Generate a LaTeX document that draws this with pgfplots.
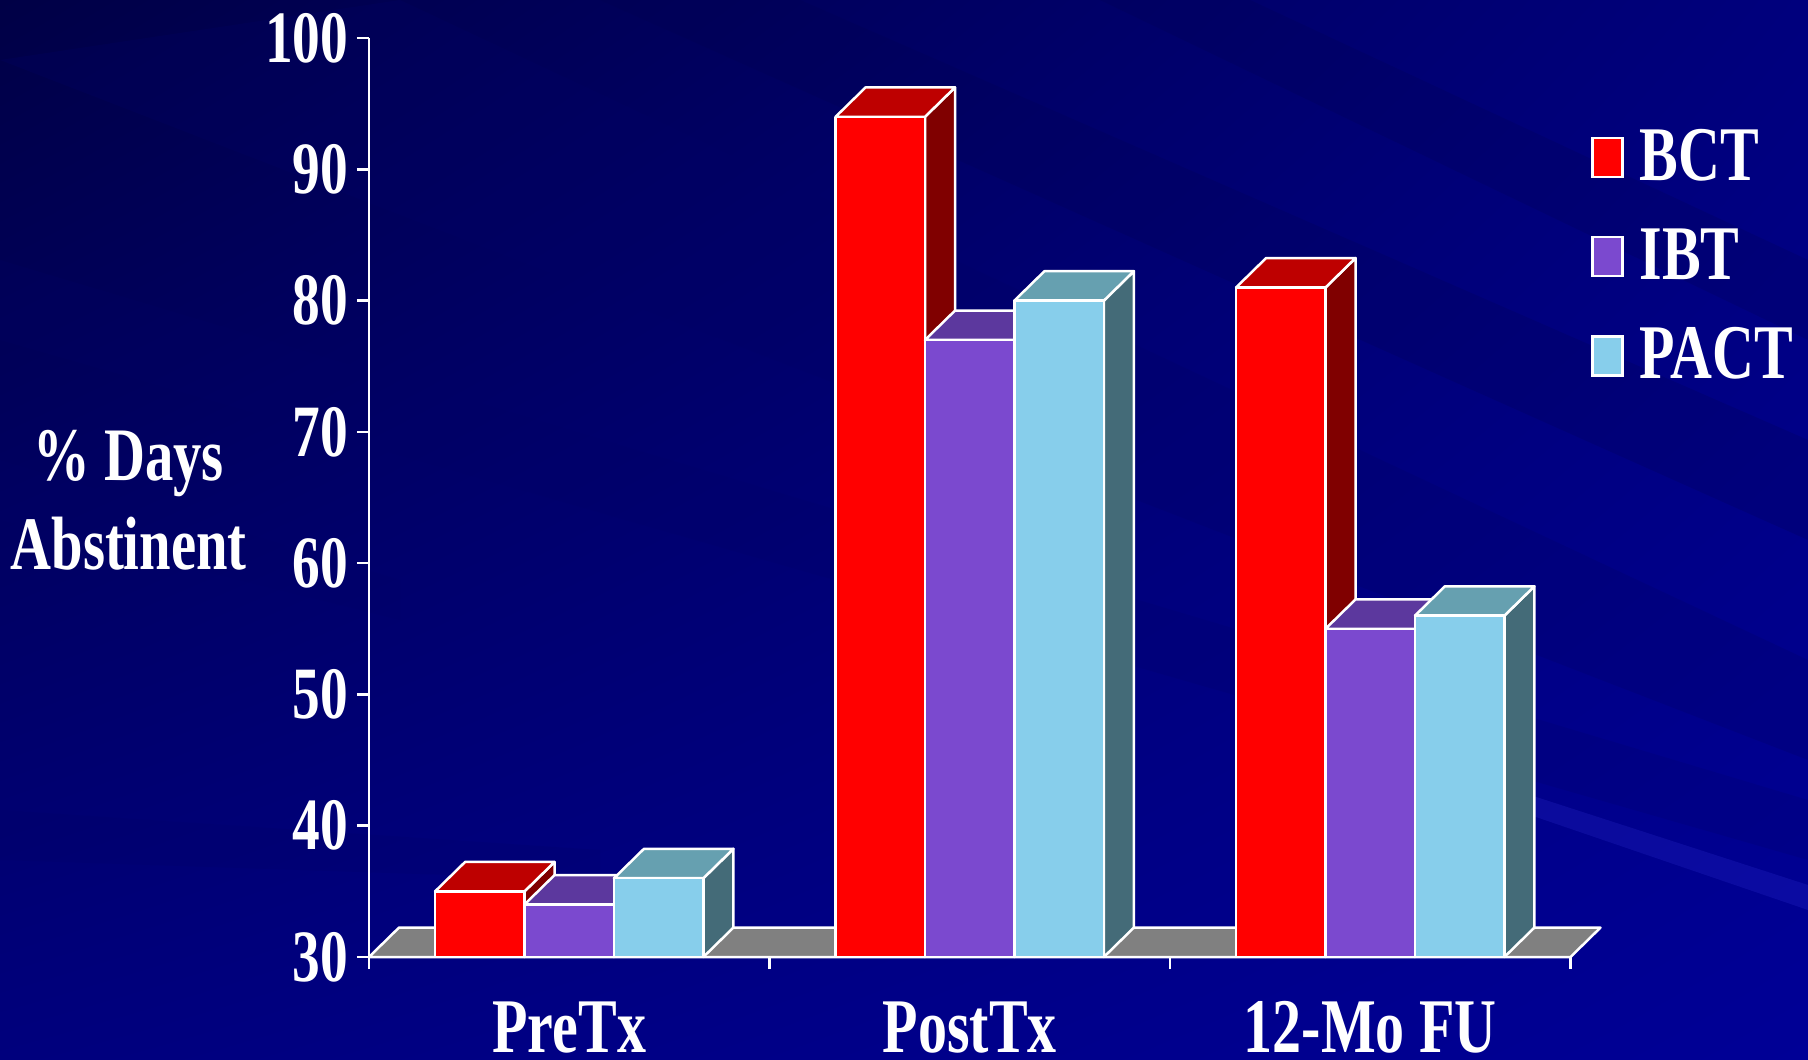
\documentclass[border=0pt]{standalone}
\usepackage{pgfplots}
\pgfplotsset{compat=1.18}
\usepackage{pgfplotstable}
\usetikzlibrary{shadings}
\usepackage{fontspec}
\setmainfont{Liberation Serif}[FakeStretch=0.75]

\definecolor{bgdark}{RGB}{0,0,70}
\definecolor{bgmid}{RGB}{0,0,125}
\definecolor{bglight}{RGB}{0,0,150}
\definecolor{bctfront}{RGB}{255,0,0}
\definecolor{bcttop}{RGB}{190,0,0}
\definecolor{bctside}{RGB}{128,0,0}
\definecolor{ibtfront}{RGB}{123,73,207}
\definecolor{ibttop}{RGB}{92,56,158}
\definecolor{ibtside}{RGB}{62,37,104}
\definecolor{pactfront}{RGB}{135,206,235}
\definecolor{pacttop}{RGB}{102,160,176}
\definecolor{pactside}{RGB}{68,107,120}
\definecolor{floorgray}{RGB}{128,128,128}

\newcommand\tickfont{\fontsize{21}{25}\selectfont\bfseries}
\newcommand\bigfont{\fontsize{22}{25.5}\selectfont\bfseries}
\newcommand\labfont{\fontsize{21.5}{25.5}\selectfont\bfseries}

\pgfplotstableread{
pos BCT IBT PACT
0 35 34 36
1 94 77 80
2 81 55 56
}\abstinence

\def\hw{0.11165}
\def\bw{0.2233}
\def\ddx{0.0749}
\def\ddy{2.24}

\pgfplotsset{face/.style={forget plot, draw=white, line width=0.25mm, line join=round}}

\newcommand\tdbar[5]{%
  \pgfmathsetmacro\xl{#1-\hw}%
  \pgfmathsetmacro\xr{#1+\hw}%
  \pgfmathsetmacro\xlb{\xl+\ddx}%
  \pgfmathsetmacro\xrb{\xr+\ddx}%
  \pgfmathsetmacro\vt{#2}%
  \pgfmathsetmacro\vb{#2+\ddy}%
  \pgfmathsetmacro\fb{30+\ddy}%
  \edef\tmp{%
    \noexpand\addplot[face, fill=#5] coordinates {(\xr,30) (\xrb,\fb) (\xrb,\vb) (\xr,\vt)} -- cycle;
    \noexpand\addplot[face, fill=#4] coordinates {(\xl,\vt) (\xr,\vt) (\xrb,\vb) (\xlb,\vb)} -- cycle;
    \noexpand\addplot[face, fill=#3] coordinates {(\xl,30) (\xr,30) (\xr,\vt) (\xl,\vt)} -- cycle;
  }\tmp}

\begin{document}
\begin{tikzpicture}
% background
\shade[upper left=bgdark, upper right=bgmid, lower left=bgmid, lower right=bglight] (0,0) rectangle (180.8mm,106mm);
\fill[black!60!blue, opacity=0.25] (0mm,100mm) -- (40mm,106mm) -- (180.8mm,40mm) -- (180.8mm,30mm) -- cycle;
\fill[black!60!blue, opacity=0.2] (0mm,80mm) -- (0mm,72mm) -- (180.8mm,20mm) -- (180.8mm,26mm) -- cycle;
\fill[black!70!blue, opacity=0.2] (60mm,106mm) -- (80mm,106mm) -- (180.8mm,62mm) -- (180.8mm,52mm) -- cycle;
\fill[black!70!blue, opacity=0.2] (110mm,106mm) -- (125mm,106mm) -- (180.8mm,80mm) -- (180.8mm,72mm) -- cycle;
\fill[black!60!blue, opacity=0.2] (0mm,60mm) -- (0mm,54mm) -- (40mm,44mm) -- (40mm,48mm) -- cycle;
\fill[blue!70!white, opacity=0.15] (153mm,26.5mm) -- (180.8mm,17.5mm) -- (180.8mm,15mm) -- (153mm,24.5mm) -- cycle;
\fill[black!60!blue, opacity=0.2] (0mm,25mm) -- (0mm,20mm) -- (60mm,18mm) -- (60mm,21mm) -- cycle;

\begin{axis}[
  at={(36.9mm,10.3mm)}, anchor=south west,
  scale only axis, width=120.15mm, height=91.9mm,
  xmin=-0.5, xmax=2.5, ymin=30, ymax=100,
  axis x line=bottom, axis y line=left,
  axis line style={white, line width=0.25mm, -},
  xtick={-0.5,0.5,1.5,2.5}, xticklabels={,,,},
  extra x ticks={0,1,2},
  extra x tick labels={PreTx,PostTx,12-Mo FU},
  extra x tick style={major tick length=0pt, xticklabel style={font=\bigfont, anchor=base, yshift=-9.5mm}},
  ytick={30,40,...,100},
  tick align=outside, major tick length=1.2mm,
  tick style={white, line width=0.25mm},
  ticklabel style={text=white},
  yticklabel style={font=\tickfont, xshift=0.35mm},
  /pgf/number format/assume math mode=true,
  ylabel={\% Days\\Abstinent},
  ylabel style={rotate=-90, at={(axis description cs:-0.2,0.497)}, anchor=center, align=center, font=\labfont, text=white},
  clip=false,
  legend style={at={(axis description cs:1.0165,0.9015)}, anchor=north west, draw=none, fill=none,
    text=white, font=\bigfont, row sep=4.3mm, inner sep=0pt, nodes={inner sep=0pt},
    /tikz/every odd column/.append style={column sep=1.6mm}},
  legend cell align=left,
]
\addlegendimage{legend image code/.code={\draw[fill=bctfront,draw=white,line width=0.25mm] (0mm,-1.95mm) rectangle (3mm,1.95mm);}}
\addlegendimage{legend image code/.code={\draw[fill=ibtfront,draw=white,line width=0.25mm] (0mm,-1.95mm) rectangle (3mm,1.95mm);}}
\addlegendimage{legend image code/.code={\draw[fill=pactfront,draw=white,line width=0.25mm] (0mm,-1.95mm) rectangle (3mm,1.95mm);}}
\legend{BCT,IBT,PACT}

% floor
\addplot[face, fill=floorgray] coordinates {(-0.5,30) (2.5,30) (2.5749,32.24) (-0.4251,32.24)} -- cycle;

\pgfplotsforeachungrouped \r in {0,1,2}{%
  \pgfplotstablegetelem{\r}{BCT}\of\abstinence \let\vA\pgfplotsretval
  \pgfplotstablegetelem{\r}{IBT}\of\abstinence \let\vB\pgfplotsretval
  \pgfplotstablegetelem{\r}{PACT}\of\abstinence \let\vC\pgfplotsretval
  \tdbar{\r-\bw}{\vA}{bctfront}{bcttop}{bctside}%
  \tdbar{\r}{\vB}{ibtfront}{ibttop}{ibtside}%
  \tdbar{\r+\bw}{\vC}{pactfront}{pacttop}{pactside}%
}
\end{axis}
\pgfresetboundingbox
\useasboundingbox (0,0) rectangle (180.8mm,106mm);
\end{tikzpicture}
\end{document}
